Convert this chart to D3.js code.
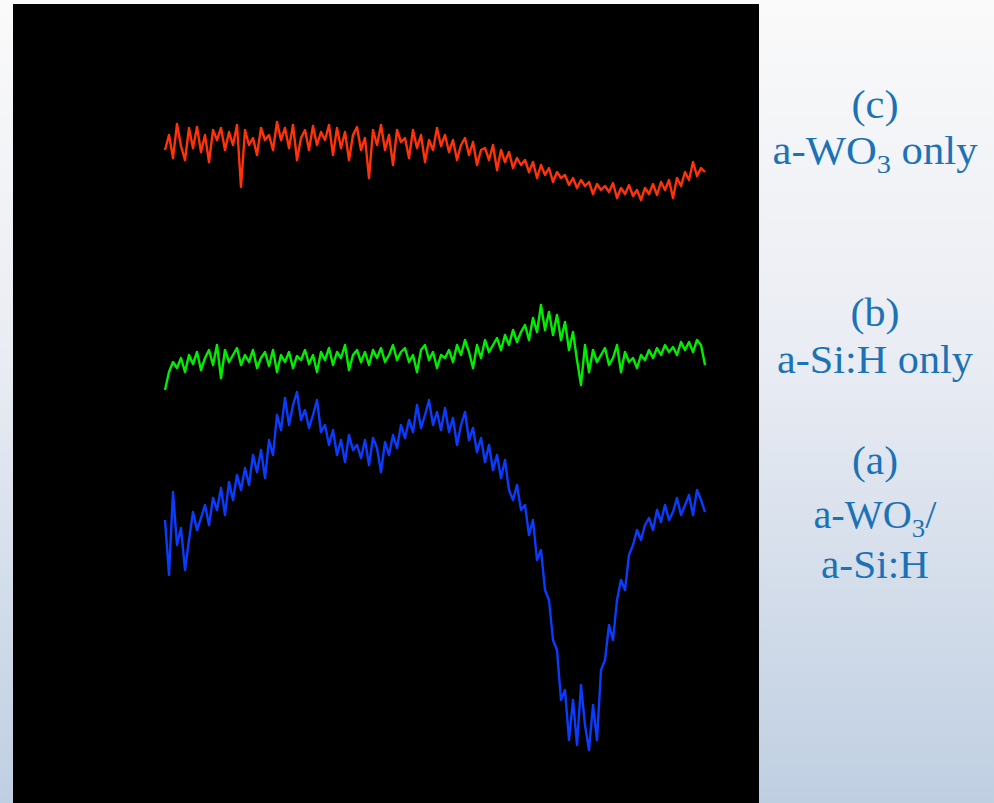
<!DOCTYPE html>
<html>
<head>
<meta charset="utf-8">
<script src="https://cdn.jsdelivr.net/npm/d3@7"></script>
<style>
  html, body { margin: 0; padding: 0; }
  body { width: 994px; height: 803px; overflow: hidden; }
</style>
</head>
<body>
<div id="chart"></div>
<script>
// signal values (a.u., stacked with offsets)
const seriesC = [650,665,642,676,654,640,672,652,673,648, 665,638,670,660,672,650,668,655,675,613,
  670,655,662,645,672,660,665,650,678,660, 672,652,675,640,662,670,650,674,655,668,
  660,675,645,672,652,668,640,665,673,650, 662,622,670,655,675,650,665,635,670,658,
  662,642,670,652,665,638,660,650,672,654, 665,648,660,640,655,662,645,658,635,650,
  652,640,655,630,650,638,648,632,642,635, 640,628,638,622,635,625,632,618,628,622,
  625,615,622,612,620,614,618,606,616,610, 614,608,617,602,612,606,615,604,610,600,
  612,606,616,605,618,610,620,602,622,614, 628,620,638,624,632,628]

const seriesB = [410,428,438,432,442,428,445,436,448,430, 442,450,435,455,422,450,438,445,452,435,
  445,438,450,432,442,448,434,450,428,445, 438,448,432,444,440,450,436,445,428,448,
  440,452,435,448,442,455,430,445,450,438, 448,435,450,442,452,438,445,455,440,448,
  452,438,445,428,450,455,440,448,432,445, 442,450,438,455,445,460,448,432,455,442,
  460,448,455,462,450,465,455,470,458,468, 475,460,482,468,495,470,488,465,485,460,
  478,450,468,440,415,455,428,450,438,445, 452,435,442,455,428,448,438,442,432,445,
  440,450,442,452,445,455,448,453,445,458, 450,458,448,460,455,435]

const seriesA = [280,225,308,255,272,230,260,288,270,282, 295,275,302,290,312,285,318,300,325,310,
  332,315,345,328,350,322,360,345,385,370, 402,375,395,408,380,390,372,385,400,368,
  375,355,370,345,360,338,365,350,355,342, 360,335,362,352,328,358,345,365,352,375,
  362,380,368,395,372,385,400,375,388,370, 392,368,382,355,375,388,360,372,348,362,
  338,355,330,345,322,340,310,300,315,290, 295,265,280,240,250,210,200,160,150,100,
  110,60,100,55,115,75,50,95,60,130, 140,175,160,200,220,210,245,255,270,260,
  275,282,270,290,278,295,280,288,302,285, 295,305,285,310,300,288]

const seriesNames  = ['c', 'b', 'a']
const seriesColors = ['#ff3208', '#00ee00', '#0a3cff']
const labelLines = [
  ['(c)', 'a-WO|3| only'],
  ['(b)', 'a-Si:H only'],
  ['(a)', 'a-WO|3|/', 'a-Si:H']
]

const width = 994, height = 803
const plot = { left: 13, top: 4, right: 759, bottom: 803 }

const svg = d3.select('#chart').append('svg')
  .attr('width', width)
  .attr('height', height)

// slide background
const grad = svg.append('defs').append('linearGradient')
  .attr('id', 'bg').attr('x1', 0).attr('y1', 0).attr('x2', 0).attr('y2', 1)
grad.append('stop').attr('offset', '0%').attr('stop-color', '#fafafa')
grad.append('stop').attr('offset', '45%').attr('stop-color', '#e9ecf3')
grad.append('stop').attr('offset', '100%').attr('stop-color', '#bfcfe2')
svg.append('rect').attr('width', width).attr('height', height).attr('fill', 'url(#bg)')

svg.append('rect')
  .attr('x', plot.left).attr('y', plot.top)
  .attr('width', plot.right - plot.left).attr('height', plot.bottom - plot.top)
  .attr('fill', '#000')

const n = seriesA.length
const x = d3.scaleLinear().domain([0, n - 1]).range([165, 705])
const y = d3.scaleLinear().domain([0, 800]).range([800, 0])

const line = d3.line()
  .x((d, i) => x(i))
  .y(d => y(d))

const allSeries = [seriesC, seriesB, seriesA]
svg.append('g').selectAll('path')
  .data(allSeries)
  .join('path')
    .attr('d', line)
    .attr('fill', 'none')
    .attr('stroke', (d, i) => seriesColors[i])
    .attr('stroke-width', 2.4)
    .attr('stroke-linejoin', 'round')

// labels: [baseline y, rendered width]
const labelPos = [
  [[118, 47], [164, 205]],
  [[326, 49], [373, 196]],
  [[474, 46], [528, 123], [578, 108]]
]
const labelX = 875

labelLines.forEach((lines, k) => {
  lines.forEach((txt, j) => {
    const [by, w] = labelPos[k][j]
    const t = svg.append('text')
      .attr('x', labelX)
      .attr('y', by)
      .attr('text-anchor', 'middle')
      .attr('font-family', '"Liberation Serif", "Times New Roman", serif')
      .attr('font-size', 39)
      .attr('fill', '#1b72b5')
      .attr('textLength', w)
      .attr('lengthAdjust', 'spacingAndGlyphs')
    txt.split('|').forEach((part, p) => {
      if (!part) return
      const ts = t.append('tspan').text(part)
      if (p === 1) ts.attr('font-size', 26).attr('dy', 9)
      if (p === 2) ts.attr('dy', -9)
    })
  })
})
</script>
</body>
</html>
